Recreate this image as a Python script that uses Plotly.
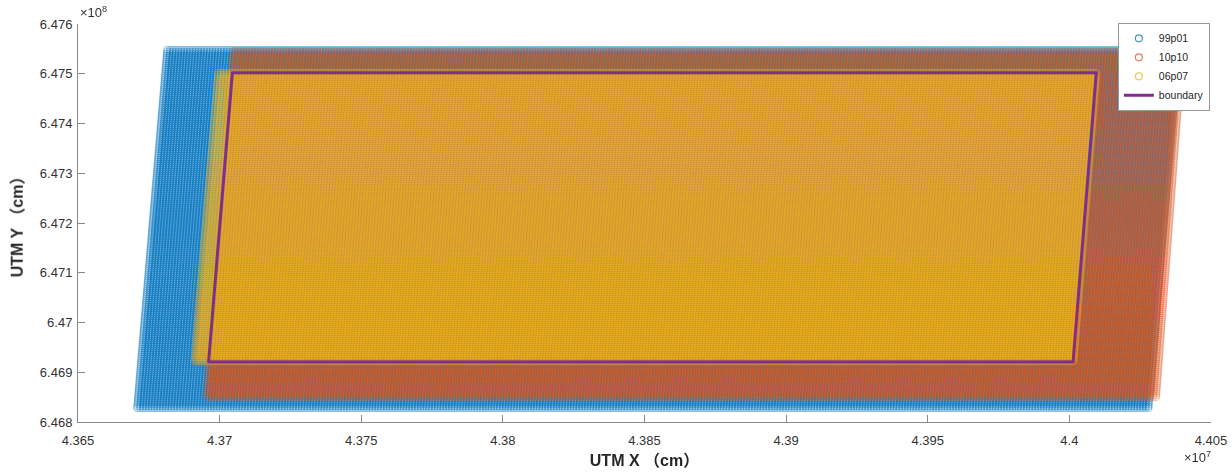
import numpy as np
import plotly.graph_objects as go

# Survey grids (UTM, cm): each grid is a sheared rectangle of regularly spaced points
series_names = ["99p01", "10p10", "06p07"]
series_colors = ["#0072BD", "#D95319", "#EDB120"]
series_opacity = [0.35, 0.27, 0.3]
top_y = [6.47548e8, 6.47546e8, 6.47504e8]
bottom_y = [6.46828e8, 6.46850e8, 6.46922e8]
top_left_x = [4.36815e7, 4.37048e7, 4.36995e7]
top_right_x = [4.40392e7, 4.40406e7, 4.40095e7]
bottom_left_x = [4.36709e7, 4.36956e7, 4.36914e7]
spacing_x = [1000.0, 1000.0, 1000.0]
spacing_y = [4000.0, 4000.0, 4000.0]

# Study-area boundary polygon
boundary_x = [4.37045e7, 4.40095e7, 4.40013e7, 4.36961e7, 4.37045e7]
boundary_y = [6.47502e8, 6.47502e8, 6.46921e8, 6.46921e8, 6.47502e8]

# Axis ticks
x_tickvals = [4.365e7, 4.37e7, 4.375e7, 4.38e7, 4.385e7, 4.39e7, 4.395e7, 4.40e7, 4.405e7]
x_ticktext = ["4.365", "4.37", "4.375", "4.38", "4.385", "4.39", "4.395", "4.4", "4.405"]
y_tickvals = [6.468e8, 6.469e8, 6.470e8, 6.471e8, 6.472e8, 6.473e8, 6.474e8, 6.475e8, 6.476e8]
y_ticktext = ["6.468", "6.469", "6.47", "6.471", "6.472", "6.473", "6.474", "6.475", "6.476"]


def grid_points(i):
    ys = np.arange(bottom_y[i], top_y[i] + 1, spacing_y[i])
    width = top_right_x[i] - top_left_x[i]
    offs = np.arange(0.0, width + 1, spacing_x[i])
    shear = (top_left_x[i] - bottom_left_x[i]) / (top_y[i] - bottom_y[i])
    row_start = bottom_left_x[i] + (ys - bottom_y[i]) * shear
    X = row_start[:, None] + offs[None, :]
    Y = np.repeat(ys[:, None], offs.size, axis=1)
    return X.ravel(), Y.ravel()


FONT = "Liberation Sans, Arial, Noto Sans CJK SC, sans-serif"
fig = go.Figure()

for i, name in enumerate(series_names):
    gx, gy = grid_points(i)
    fig.add_trace(go.Scattergl(
        x=gx, y=gy, mode="markers", name=name, legendgroup=name, showlegend=False,
        marker=dict(symbol="circle-open", size=7, color=series_colors[i],
                    opacity=series_opacity[i], line=dict(width=1, color=series_colors[i])),
    ))
    # legend key with full-strength marker
    fig.add_trace(go.Scattergl(
        x=[None], y=[None], mode="markers", name=name, legendgroup=name,
        marker=dict(symbol="circle-open", size=7, color=series_colors[i],
                    opacity=0.75, line=dict(width=1.2, color=series_colors[i])),
    ))

# boundary drawn on the same WebGL layer so it sits above the point grids
fig.add_trace(go.Scattergl(
    x=boundary_x, y=boundary_y, mode="lines", name="boundary",
    line=dict(color="#7E2F8E", width=3),
))

axis_common = dict(
    showline=True, linecolor="#8a8a8a", linewidth=1,
    ticks="inside", ticklen=7, tickcolor="#8a8a8a", tickwidth=1,
    showgrid=False, zeroline=False, mirror=False, automargin=False,
    tickfont=dict(family=FONT, size=13, color="#333333"),
)

fig.update_layout(
    width=1232, height=473,
    margin=dict(l=78, r=21, t=24, b=51),
    plot_bgcolor="white", paper_bgcolor="white",
    font=dict(family=FONT, color="#262626"),
    xaxis=dict(range=[4.365e7, 4.405e7], tickvals=x_tickvals, ticktext=x_ticktext,
               ticklabelstandoff=6,
               title=dict(text="<b>UTM X （cm）</b>", font=dict(family=FONT, size=16, color="#262626"),
                          standoff=8),
               **axis_common),
    yaxis=dict(range=[6.468e8, 6.476e8], tickvals=y_tickvals, ticktext=y_ticktext,
               ticklabelstandoff=2,
               title=dict(text="<b>UTM Y （cm）</b>", font=dict(family=FONT, size=16, color="#262626"),
                          standoff=12),
               **axis_common),
    legend=dict(x=0.999, y=1.003, xanchor="right", yanchor="top",
                bgcolor="white", bordercolor="#999999", borderwidth=1,
                font=dict(family=FONT, size=10.5, color="#262626"),
                itemsizing="trace", tracegroupgap=0, itemwidth=30),
    showlegend=True,
    annotations=[
        dict(text="×10<sup>8</sup>", x=0, y=1, xref="paper", yref="paper",
             xanchor="left", yanchor="bottom", showarrow=False, xshift=0, yshift=2,
             font=dict(family=FONT, size=13, color="#333333")),
        dict(text="×10<sup>7</sup>", x=1, y=0, xref="paper", yref="paper",
             xanchor="right", yanchor="top", showarrow=False, yshift=-25, xshift=2,
             font=dict(family=FONT, size=13, color="#333333")),
    ],
)

fig.write_html("out.html")
